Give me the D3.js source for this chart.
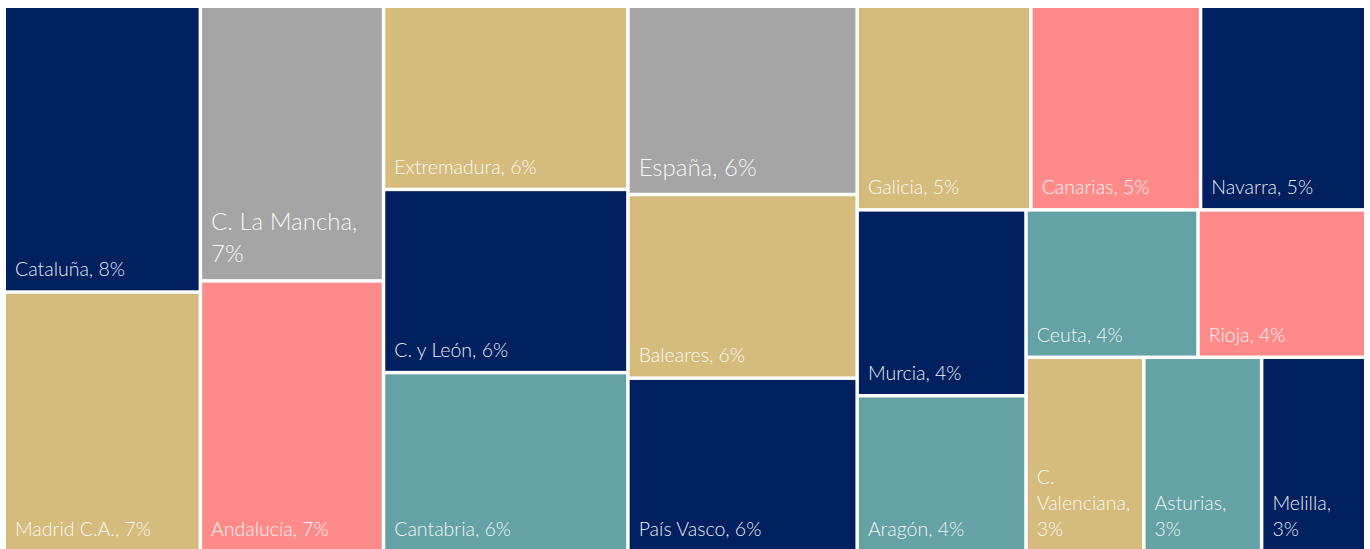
<!DOCTYPE html>
<html>
<head>
<meta charset="utf-8">
<script src="https://cdn.jsdelivr.net/npm/d3@7/dist/d3.min.js"></script>
<style>
  body { margin: 0; background: #fff; }
  svg { display: block; }
  .label { font-family: Lato, "Open Sans", sans-serif; font-weight: 300; fill: #fff; fill-opacity: 0.93; }
</style>
</head>
<body>
<svg id="chart" width="1370" height="549"></svg>
<script>
// regions and their values (%)
var regions = ["Cataluña", "Madrid C.A.", "C. La Mancha", "Andalucía", "Extremadura",
  "C. y León", "Cantabria", "España", "Baleares", "País Vasco", "Galicia", "Canarias",
  "Navarra", "Murcia", "Aragón", "Ceuta", "Rioja", "C. Valenciana", "Asturias", "Melilla"];
var values = [8.00, 7.27, 7.18, 7.08, 6.39, 6.39, 6.25, 6.16, 6.01, 5.68, 5.05, 4.93,
  4.80, 4.48, 3.76, 3.62, 3.53, 3.27, 3.27, 2.89];
var colorKeys = ["navy", "tan", "gray", "pink", "tan", "navy", "teal", "gray", "tan", "navy",
  "tan", "pink", "navy", "navy", "teal", "teal", "pink", "tan", "teal", "navy"];
var highlighted = ["C. La Mancha", "España"];

var palette = {
  navy: "#002060",
  tan: "#D5BC7D",
  gray: "#A5A5A5",
  pink: "#FF8A8A",
  teal: "#64A2A6"
};

// note: "top" is taken by window.top, so use other names
var offsetX = 6, offsetY = 8, innerW = 1358, innerH = 542;
var fontSize = 19.5, bigFontSize = 24;
var padX = 9;

var svg = d3.select("#chart");
var g = svg.append("g").attr("transform", "translate(" + offsetX + "," + offsetY + ")");

var data = regions.map(function (r, i) {
  return { name: r, value: values[i], color: palette[colorKeys[i]] };
});

var root = d3.hierarchy({ children: data })
  .sum(function (d) { return d.value; })
  .sort(function (a, b) { return b.value - a.value; });

d3.treemap()
  .tile(d3.treemapSquarify.ratio(1))
  .size([innerW, innerH])
  .paddingInner(3.5)(root);

var cell = g.selectAll("g.cell")
  .data(root.leaves())
  .enter().append("g")
  .attr("class", "cell");

cell.append("rect")
  .attr("x", function (d) { return d.x0; })
  .attr("y", function (d) { return d.y0; })
  .attr("width", function (d) { return d.x1 - d.x0; })
  .attr("height", function (d) { return d.y1 - d.y0; })
  .attr("fill", function (d) { return d.data.color; });

// bottom-left labels, wrapped to the tile width
cell.each(function (d) {
  var big = highlighted.indexOf(d.data.name) >= 0;
  var size = big ? bigFontSize : fontSize;
  var lineH = big ? 32 : 26;
  var bottomPad = big ? 17 : 14;
  var maxW = d.x1 - d.x0 - 2 * padX;
  var words = (d.data.name + ", " + Math.round(d.data.value) + "%").split(" ");

  var text = d3.select(this).append("text")
    .attr("class", "label")
    .style("font-size", size + "px");
  var probe = text.append("tspan");
  var lines = [], line = [];
  words.forEach(function (w) {
    line.push(w);
    probe.text(line.join(" "));
    if (probe.node().getComputedTextLength() > maxW && line.length > 1) {
      line.pop();
      lines.push(line.join(" "));
      line = [w];
    }
  });
  lines.push(line.join(" "));
  probe.remove();

  text.selectAll("tspan")
    .data(lines)
    .enter().append("tspan")
    .attr("x", d.x0 + padX)
    .attr("y", function (l, i) { return d.y1 - bottomPad - (lines.length - 1 - i) * lineH; })
    .text(function (l) { return l; });
});
</script>
</body>
</html>
